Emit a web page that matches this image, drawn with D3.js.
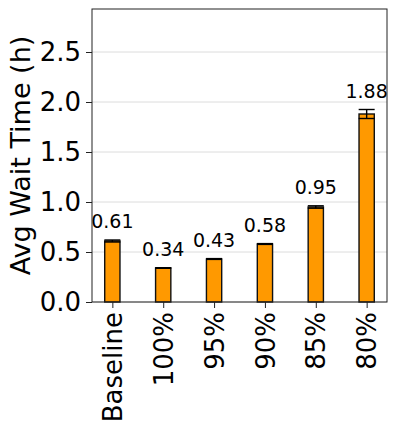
<!DOCTYPE html>
<html>
<head>
<meta charset="utf-8">
<script src="https://cdn.jsdelivr.net/npm/d3@7"></script>
<style>
  body { margin: 0; background: #fff; }
  text { font-family: "DejaVu Sans", sans-serif; fill: #000; }
</style>
</head>
<body>
<div id="chart"></div>
<script>
const categories = ['Baseline', '100%', '95%', '90%', '85%', '80%'];
const waitTimes = [0.61, 0.34, 0.43, 0.58, 0.95, 1.88];
const errors = [0.01, 0.003, 0.004, 0.004, 0.012, 0.045];
const yTicks = [0.0, 0.5, 1.0, 1.5, 2.0, 2.5];

const width = 398, height = 434;
const margin = { top: 9, right: 11, bottom: 132, left: 92 };
const innerW = width - margin.left - margin.right;
const innerH = height - margin.top - margin.bottom;

const svg = d3.select('#chart')
  .append('svg')
  .attr('width', width)
  .attr('height', height);

const g = svg.append('g')
  .attr('transform', `translate(${margin.left},${margin.top})`);

const x = d3.scalePoint()
  .domain(categories)
  .range([0, innerW])
  .padding(0.4);

const y = d3.scaleLinear()
  .domain([0, 2.93])
  .range([innerH, 0]);

const barW = x.step() * 0.3;

// grid
g.selectAll('.grid')
  .data(yTicks)
  .enter()
  .append('line')
  .attr('x1', 0)
  .attr('x2', innerW)
  .attr('y1', d => y(d))
  .attr('y2', d => y(d))
  .attr('stroke', '#dcdcdc')
  .attr('stroke-width', 1);

// bars
g.selectAll('.bar')
  .data(waitTimes)
  .enter()
  .append('rect')
  .attr('x', (d, i) => x(categories[i]) - barW / 2)
  .attr('y', d => y(d))
  .attr('width', barW)
  .attr('height', d => y(0) - y(d))
  .attr('fill', '#ff9900')
  .attr('stroke', '#111')
  .attr('stroke-width', 1.4);

// error bars
const cap = 8;
const err = g.selectAll('.err')
  .data(waitTimes)
  .enter()
  .append('g')
  .attr('stroke', '#000')
  .attr('stroke-width', 1.4);
err.append('line')
  .attr('x1', (d, i) => x(categories[i]))
  .attr('x2', (d, i) => x(categories[i]))
  .attr('y1', (d, i) => y(d - errors[i]))
  .attr('y2', (d, i) => y(d + errors[i]));
err.append('line')
  .attr('x1', (d, i) => x(categories[i]) - cap)
  .attr('x2', (d, i) => x(categories[i]) + cap)
  .attr('y1', (d, i) => y(d + errors[i]))
  .attr('y2', (d, i) => y(d + errors[i]));
err.append('line')
  .attr('x1', (d, i) => x(categories[i]) - cap)
  .attr('x2', (d, i) => x(categories[i]) + cap)
  .attr('y1', (d, i) => y(d - errors[i]))
  .attr('y2', (d, i) => y(d - errors[i]));

// value labels
g.selectAll('.val')
  .data(waitTimes)
  .enter()
  .append('text')
  .attr('x', (d, i) => x(categories[i]))
  .attr('y', (d, i) => y(d + errors[i] + 0.12))
  .attr('text-anchor', 'middle')
  .style('font-size', '19px')
  .text(d => d.toFixed(2));

// axes
const yAxis = g.append('g')
  .call(d3.axisLeft(y).tickValues(yTicks).tickFormat(d3.format('.1f')).tickSize(6).tickPadding(5));
const xAxis = g.append('g')
  .attr('transform', `translate(0,${innerH})`)
  .call(d3.axisBottom(x).tickSize(6).tickPadding(5));

[xAxis, yAxis].forEach(a => {
  a.select('.domain').remove();
  a.selectAll('.tick line').attr('stroke', '#222').attr('stroke-width', 1);
  a.selectAll('.tick text').style('font-size', '26px').attr('fill', '#000');
});

xAxis.selectAll('.tick text')
  .attr('transform', 'rotate(-90)')
  .attr('text-anchor', 'end')
  .attr('x', -10)
  .attr('y', 0)
  .attr('dy', '0.35em');

// frame
g.append('rect')
  .attr('width', innerW)
  .attr('height', innerH)
  .attr('fill', 'none')
  .attr('stroke', '#222')
  .attr('stroke-width', 1);

// y label
svg.append('text')
  .attr('transform', `translate(30,${margin.top + innerH / 2}) rotate(-90)`)
  .attr('text-anchor', 'middle')
  .style('font-size', '27px')
  .text('Avg Wait Time (h)');
</script>
</body>
</html>
